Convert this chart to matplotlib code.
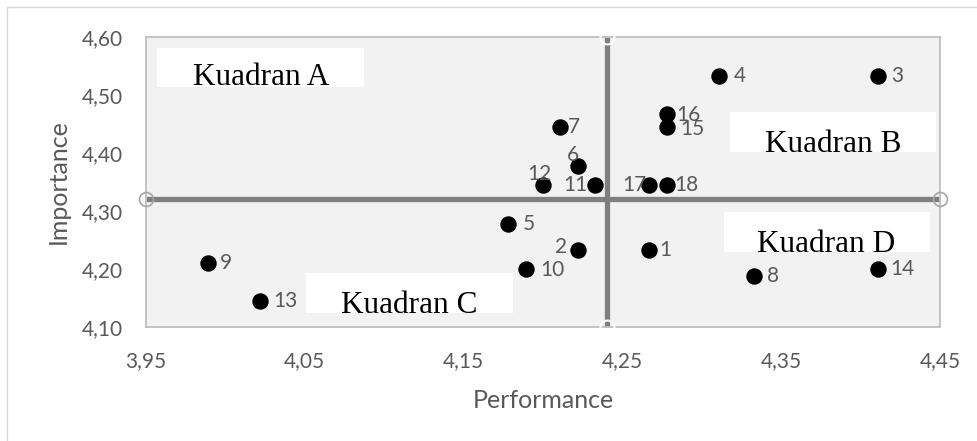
import matplotlib
matplotlib.use("Agg")
import matplotlib.pyplot as plt
from matplotlib.patches import Rectangle
import numpy as np

plt.rcParams["font.family"] = ["Lato", "DejaVu Sans"]

# data
labels = [str(i) for i in range(1, 19)]
performance = [4.267, 4.222, 4.411, 4.311, 4.178, 4.222, 4.211, 4.333, 3.989,
               4.189, 4.233, 4.200, 4.022, 4.411, 4.278, 4.278, 4.267, 4.278]
importance = [4.233, 4.233, 4.533, 4.533, 4.278, 4.378, 4.445, 4.188, 4.211,
              4.200, 4.345, 4.345, 4.144, 4.200, 4.445, 4.467, 4.345, 4.345]
mean_performance = 4.24
mean_importance = 4.32

x_ticks = [3.95, 4.05, 4.15, 4.25, 4.35, 4.45]
y_ticks = [4.10, 4.20, 4.30, 4.40, 4.50, 4.60]
quadrants = ["Kuadran A", "Kuadran B", "Kuadran C", "Kuadran D"]

# label placement (pixels: dx, dy, ha)
label_pos = {
    "1": (10, 0, "left"), "2": (-11, 3, "right"), "3": (13, 0, "left"),
    "4": (15, 0, "left"), "5": (15, 0, "left"), "6": (-4.7, 10.7, "center"),
    "7": (7.3, 0, "left"), "8": (13, 0, "left"), "9": (11.7, 0, "left"),
    "10": (14.3, -1, "left"), "11": (-7.7, 0, "right"), "12": (-3.5, 11, "center"),
    "13": (13.3, 0, "left"), "14": (11.7, 0, "left"), "15": (13.7, -1.7, "left"),
    "16": (9, -1, "left"), "17": (-3, 0, "right"), "18": (7.7, 0, "left"),
}
# quadrant boxes in axes fraction: x0, y0, x1, y1, text x, text baseline
box_pos = [
    (0.0139, 0.828, 0.2746, 0.962, 0.1448, 0.833),
    (0.7355, 0.603, 0.995, 0.741, 0.865, 0.603),
    (0.2015, 0.048, 0.4622, 0.186, 0.331, 0.048),
    (0.728, 0.260, 0.987, 0.398, 0.857, 0.260),
]

W, H = 978, 441
fig = plt.figure(figsize=(W / 100, H / 100), dpi=100)
ax = fig.add_axes([146 / W, (H - 327) / H, 794 / W, 290 / H])
ax.set_facecolor("#f2f2f2")

gray_txt = "#595959"

# outer chart border
fig.patches.append(Rectangle((7 / W, -0.2), 1.2, 1.2 + (H - 7) / H - 1.0,
                             transform=fig.transFigure, fill=False,
                             edgecolor="#d9d9d9", lw=1.0))

# quadrant lines
ax.plot([3.95, 4.45], [mean_importance, mean_importance], color="#7f7f7f",
        lw=3.8, solid_capstyle="butt", zorder=2, clip_on=False)
ax.plot([mean_performance, mean_performance], [4.10, 4.60], color="#7f7f7f",
        lw=3.8, solid_capstyle="butt", zorder=2, clip_on=False)
ax.plot([3.95, 4.45], [mean_importance, mean_importance], ls="none", marker="o",
        ms=10, mfc="none", mec="#a6a6a6", mew=1.2, zorder=3, clip_on=False)
ax.plot([mean_performance, mean_performance], [4.10, 4.60], ls="none", marker="o",
        ms=10, mfc="none", mec="white", mew=1.5, zorder=3, clip_on=False)

# quadrant boxes
for name, (x0, y0, x1, y1, tx, ty) in zip(quadrants, box_pos):
    ax.add_patch(Rectangle((x0, y0), x1 - x0, y1 - y0, transform=ax.transAxes,
                           facecolor="white", edgecolor="none", zorder=1))
    ax.text(tx, ty, name, transform=ax.transAxes, ha="center", va="baseline",
            fontsize=22.5, family="Liberation Serif", color="black", zorder=4)

ax.scatter(performance, importance, s=117, color="black", zorder=5)
for lab, x, y in zip(labels, performance, importance):
    dx, dy, ha = label_pos[lab]
    ax.annotate(lab, (x, y), xytext=(dx * 0.72, dy * 0.72), textcoords="offset points",
                ha=ha, va="center", fontsize=15, color=gray_txt, zorder=6)

ax.set_xlim(3.95, 4.45)
ax.set_ylim(4.10, 4.60)
ax.set_xticks(x_ticks)
ax.set_xticklabels([f"{v:.2f}".replace(".", ",") for v in x_ticks])
ax.set_yticks(y_ticks)
ax.set_yticklabels([f"{v:.2f}".replace(".", ",") for v in y_ticks])
ax.tick_params(length=0, labelsize=15, labelcolor=gray_txt)
ax.tick_params(axis="x", pad=17)
ax.tick_params(axis="y", pad=16.5)
for sp in ax.spines.values():
    sp.set_color("#bfbfbf")
    sp.set_linewidth(1.3)

fig.text(543 / W, 1 - 400 / H, "Performance", ha="center", va="center",
         fontsize=18, color=gray_txt)
fig.text(58 / W, 1 - 182 / H, "Importance", ha="center", va="center",
         rotation=90, fontsize=18, color=gray_txt)

fig.savefig("out.png", dpi=100)
